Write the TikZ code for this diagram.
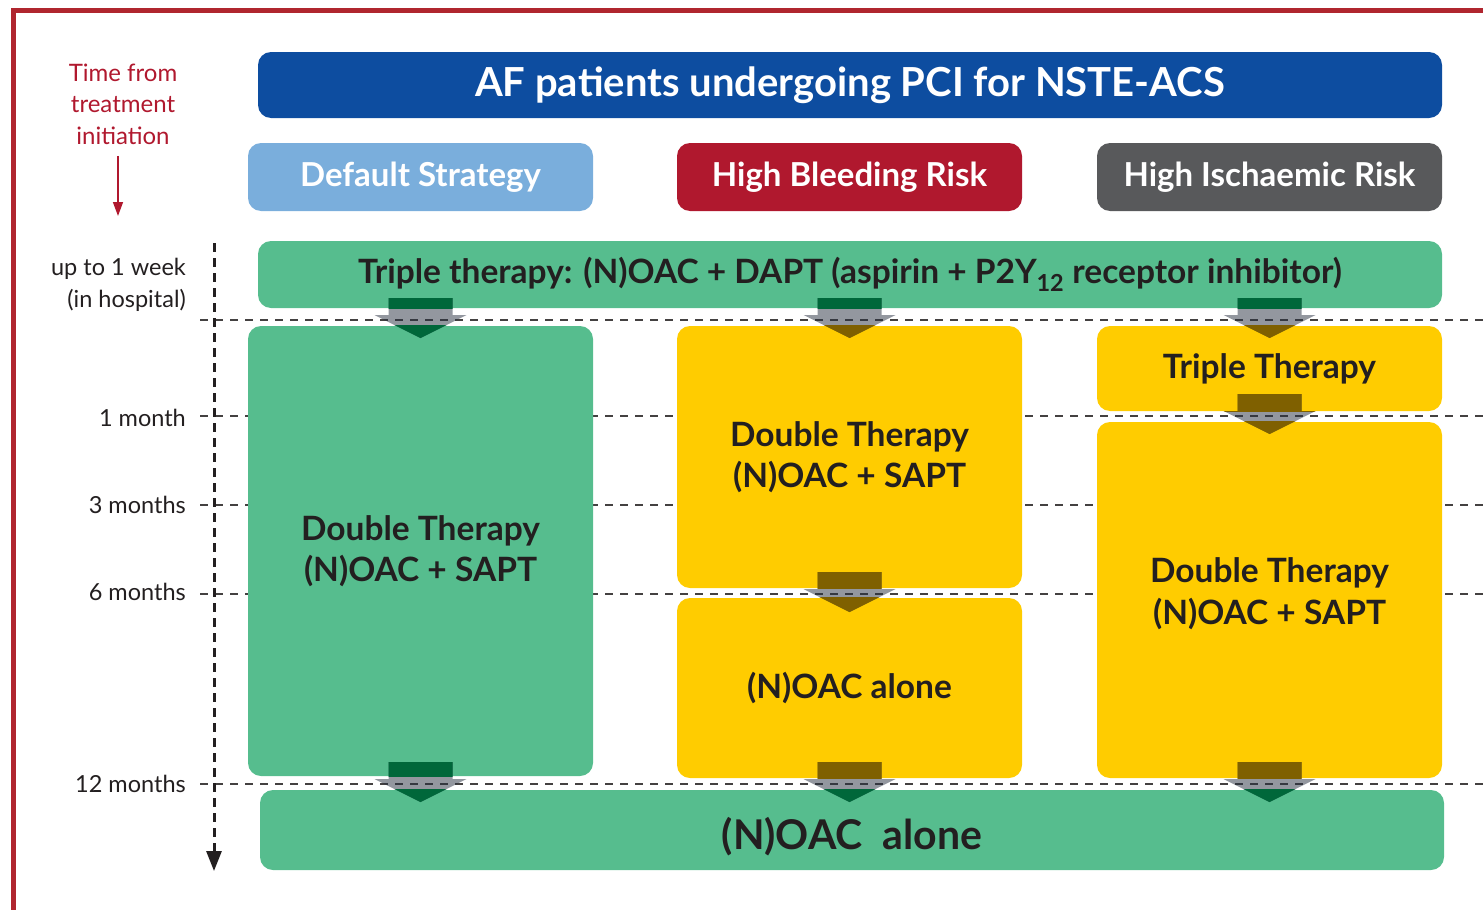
\documentclass[tikz,border=0pt]{standalone}
\usepackage{fontspec}
\setmainfont{Lato}
\usetikzlibrary{arrows.meta,calc}

\definecolor{frameRed}{HTML}{B0262F}
\definecolor{titleBlue}{HTML}{0D4DA0}
\definecolor{lightBlue}{HTML}{7AAEDC}
\definecolor{bleedRed}{HTML}{B0182E}
\definecolor{ischGray}{HTML}{58595B}
\definecolor{therapyGreen}{HTML}{56BD8E}
\definecolor{therapyYellow}{HTML}{FFCC00}
\definecolor{ink}{HTML}{231F20}
\definecolor{deepGreen}{HTML}{00673A}
\definecolor{deepOlive}{HTML}{7F6000}
\definecolor{shade}{HTML}{283040}

\tikzset{
  box/.style={rounded corners=13pt, inner sep=0pt, align=center, text=ink,
    font=\bfseries\fontsize{33.5}{41}\selectfont},
  header/.style={box, text=white, minimum width=345pt, minimum height=68pt,
    font=\bfseries\fontsize{33}{38}\selectfont},
  greenbox/.style={box, fill=therapyGreen},
  yellowbox/.style={box, fill=therapyYellow},
  hdash/.style={draw=ink!85, line width=2pt, dash pattern=on 8pt off 7pt},
  ticklabel/.style={anchor=east, inner sep=0pt, text=ink, align=right,
    font=\fontsize{23.5}{32}\selectfont},
  blockarrow/.pic={
    \fill[pic actions] (-32,-22) -- (32,-22) -- (32,-5) -- (46,-5) -- (0,18)
      -- (-46,-5) -- (-32,-5) -- cycle;
  }
}

% block arrow: grey where it crosses the white gap, darkened over each box
\newcommand\flowarrow[5]{%
  \pic[fill=shade, fill opacity=.5] at (#1) {blockarrow};
  \begin{scope}
    \clip (#2.south west) rectangle (#2.north east);
    \pic[fill=#3] at (#1) {blockarrow};
  \end{scope}
  \begin{scope}
    \clip (#4.south west) rectangle (#4.north east);
    \pic[fill=#5] at (#1) {blockarrow};
  \end{scope}}

\begin{document}
\begin{tikzpicture}[x=1pt, y=-1pt]
\useasboundingbox (0,0) rectangle (1483,910);

% outer frame (left and top edges)
\draw[frameRed, line width=5pt] (13,910) -- (13,10) -- (1483,10);

% time axis caption
\node[text=bleedRed, align=center, font=\fontsize{24}{31.5}\selectfont] (caption)
  at (123,104) {Time from\\treatment\\initiation};
\coordinate (capArrowEnd) at (118,216);
\draw[bleedRed, line width=1.5pt, -{Triangle[width=10pt,length=14pt]}]
  (caption.south -| capArrowEnd) ++(0,8) -- (capArrowEnd);

% time marks
\coordinate (edge) at (1483,0);
\coordinate (l0) at (200,320);
\coordinate (l1) at (200,416);
\coordinate (l3) at (200,505);
\coordinate (l6) at (200,594);
\coordinate (l12) at (200,784);
\foreach \l in {l0,l1,l3,l6,l12}
  \draw[hdash] (\l) -- (\l -| edge);

% vertical time axis
\coordinate (axTop) at (214,243);
\coordinate (axEnd) at (214,871);
\draw[ink, line width=3pt, dash pattern=on 9pt off 6pt,
  -{Triangle[width=15pt,length=20pt]}] (axTop) -- (axEnd);

\node[ticklabel] (tw) at (186,285) {up to 1 week\\(in hospital)};
\node[ticklabel] (t1) at (186,418) {1 month};
\node[ticklabel] (t3) at (186,505) {3 months};
\node[ticklabel] (t6) at (186,592) {6 months};
\node[ticklabel] (t12) at (186,784) {12 months};

% headers
\node[box, fill=titleBlue, text=white, minimum width=1184pt, minimum height=66pt,
  font=\bfseries\fontsize{40}{44}\selectfont] (title) at (850,85)
  {AF patients undergoing PCI for NSTE-ACS};
\node[header, fill=lightBlue] (default) at (420.5,177) {Default Strategy};
\node[header, fill=bleedRed] (bleed) at (849.5,177) {High Bleeding Risk};
\node[header, fill=ischGray] (isch) at (1269.5,177) {High Ischaemic Risk};

% therapy boxes
\node[greenbox, minimum width=1184pt, minimum height=67pt] (triple) at (850,274.5)
  {Triple therapy: (N)OAC + DAPT (aspirin + P2Y\textsubscript{12} receptor inhibitor)};

\node[greenbox, minimum width=345pt, minimum height=450pt] (c1dual) at (420.5,551)
  {Double Therapy\\(N)OAC + SAPT};

\node[yellowbox, minimum width=345pt, minimum height=262pt] (c2dual) at (849.5,457)
  {Double Therapy\\(N)OAC + SAPT};
\node[yellowbox, minimum width=345pt, minimum height=180pt] (c2oac) at (849.5,688)
  {(N)OAC alone};

\node[yellowbox, minimum width=345pt, minimum height=85pt] (c3triple) at (1269.5,368.5)
  {Triple Therapy};
\node[yellowbox, minimum width=345pt, minimum height=356pt] (c3dual) at (1269.5,600)
  {\raisebox{6pt}[\height][\depth]{\shortstack{Double Therapy\\[7pt](N)OAC + SAPT}}};

\node[greenbox, minimum width=1184pt, minimum height=80pt,
  font=\bfseries\fontsize{41}{46}\selectfont] (oac) at (852,830)
  {\raisebox{-7pt}[\height][\depth]{(N)OAC\ \ alone}};

% transitions
\flowarrow{c1dual.north |- l0}{triple}{deepGreen}{c1dual}{deepGreen}
\flowarrow{c2dual.north |- l0}{triple}{deepGreen}{c2dual}{deepOlive}
\flowarrow{c3triple.north |- l0}{triple}{deepGreen}{c3triple}{deepOlive}
\flowarrow{c3dual.north |- l1}{c3triple}{deepOlive}{c3dual}{deepOlive}
\flowarrow{c2oac.north |- l6}{c2dual}{deepOlive}{c2oac}{deepOlive}
\flowarrow{c1dual.south |- l12}{c1dual}{deepGreen}{oac}{deepGreen}
\flowarrow{c2oac.south |- l12}{c2oac}{deepOlive}{oac}{deepGreen}
\flowarrow{c3dual.south |- l12}{c3dual}{deepOlive}{oac}{deepGreen}
\end{tikzpicture}
\end{document}
